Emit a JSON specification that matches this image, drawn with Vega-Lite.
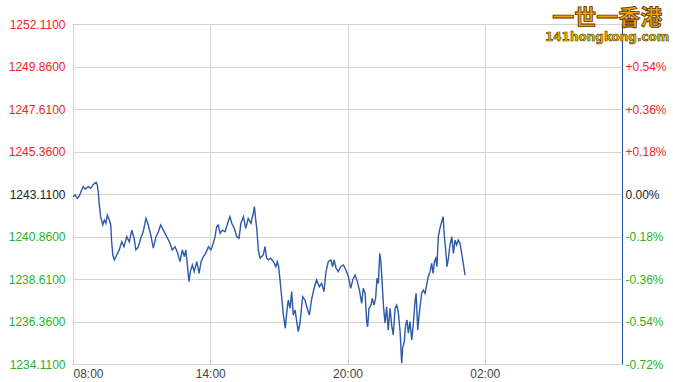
{
  "$schema": "https://vega.github.io/schema/vega-lite/v6.json",
  "width": 549,
  "height": 340,
  "autosize": {"type": "none"},
  "padding": {"left": 73, "top": 24, "right": 51, "bottom": 18},
  "background": "white",
  "config": {
    "view": {"stroke": "#1f4e9e", "strokeWidth": 1},
    "axis": {"labelFont": "Liberation Sans", "labelFontSize": 12}
  },
  "layer": [
    {
      "data": {"values": [
        {"h":8.01,"v":1242.97},{"h":8.09,"v":1243.06},{"h":8.19,"v":1242.88},{"h":8.28,"v":1243.02},{"h":8.38,"v":1243.32},{"h":8.45,"v":1243.50},{"h":8.53,"v":1243.37},{"h":8.67,"v":1243.50},{"h":8.77,"v":1243.41},{"h":8.89,"v":1243.62},{"h":9.01,"v":1243.73},{"h":9.06,"v":1243.62},{"h":9.11,"v":1243.15},{"h":9.15,"v":1242.53},{"h":9.21,"v":1241.91},{"h":9.30,"v":1241.47},{"h":9.37,"v":1241.73},{"h":9.44,"v":1241.56},{"h":9.50,"v":1242.00},{"h":9.59,"v":1241.73},{"h":9.65,"v":1241.47},{"h":9.69,"v":1240.58},{"h":9.74,"v":1239.88},{"h":9.81,"v":1239.62},{"h":9.91,"v":1239.88},{"h":10.02,"v":1240.15},{"h":10.13,"v":1240.58},{"h":10.23,"v":1240.32},{"h":10.35,"v":1240.85},{"h":10.46,"v":1240.58},{"h":10.57,"v":1241.20},{"h":10.67,"v":1240.77},{"h":10.75,"v":1240.15},{"h":10.86,"v":1240.32},{"h":10.96,"v":1240.77},{"h":11.07,"v":1241.11},{"h":11.19,"v":1241.82},{"h":11.29,"v":1241.47},{"h":11.40,"v":1240.94},{"h":11.51,"v":1240.24},{"h":11.63,"v":1240.85},{"h":11.73,"v":1241.11},{"h":11.83,"v":1241.47},{"h":11.95,"v":1241.20},{"h":12.10,"v":1240.85},{"h":12.24,"v":1240.50},{"h":12.34,"v":1240.15},{"h":12.46,"v":1240.32},{"h":12.58,"v":1239.97},{"h":12.68,"v":1239.53},{"h":12.78,"v":1240.15},{"h":12.87,"v":1239.79},{"h":12.93,"v":1240.15},{"h":12.98,"v":1239.62},{"h":13.07,"v":1238.47},{"h":13.13,"v":1239.00},{"h":13.22,"v":1239.35},{"h":13.30,"v":1239.00},{"h":13.41,"v":1239.53},{"h":13.51,"v":1238.91},{"h":13.60,"v":1239.53},{"h":13.70,"v":1239.79},{"h":13.80,"v":1239.97},{"h":13.92,"v":1240.32},{"h":14.03,"v":1240.15},{"h":14.13,"v":1240.50},{"h":14.21,"v":1240.85},{"h":14.28,"v":1241.38},{"h":14.35,"v":1241.47},{"h":14.43,"v":1241.03},{"h":14.53,"v":1241.20},{"h":14.65,"v":1241.11},{"h":14.76,"v":1241.56},{"h":14.86,"v":1241.91},{"h":14.94,"v":1241.56},{"h":15.05,"v":1241.29},{"h":15.16,"v":1240.85},{"h":15.26,"v":1240.77},{"h":15.34,"v":1241.56},{"h":15.45,"v":1241.91},{"h":15.55,"v":1241.29},{"h":15.66,"v":1241.82},{"h":15.78,"v":1241.56},{"h":15.88,"v":1242.09},{"h":15.93,"v":1242.44},{"h":15.99,"v":1241.73},{"h":16.04,"v":1241.20},{"h":16.10,"v":1240.15},{"h":16.18,"v":1239.71},{"h":16.32,"v":1239.88},{"h":16.39,"v":1240.32},{"h":16.47,"v":1239.71},{"h":16.54,"v":1239.62},{"h":16.64,"v":1239.71},{"h":16.76,"v":1239.53},{"h":16.87,"v":1239.26},{"h":16.93,"v":1239.53},{"h":16.99,"v":1239.26},{"h":17.05,"v":1238.56},{"h":17.12,"v":1237.67},{"h":17.19,"v":1236.79},{"h":17.28,"v":1236.00},{"h":17.34,"v":1236.79},{"h":17.41,"v":1237.50},{"h":17.49,"v":1237.06},{"h":17.56,"v":1237.94},{"h":17.63,"v":1236.70},{"h":17.71,"v":1236.97},{"h":17.78,"v":1236.35},{"h":17.85,"v":1235.82},{"h":17.92,"v":1236.27},{"h":18.04,"v":1237.67},{"h":18.14,"v":1237.50},{"h":18.22,"v":1237.14},{"h":18.33,"v":1236.70},{"h":18.44,"v":1237.59},{"h":18.54,"v":1238.12},{"h":18.65,"v":1238.56},{"h":18.77,"v":1238.20},{"h":18.87,"v":1238.38},{"h":18.97,"v":1237.94},{"h":19.06,"v":1239.00},{"h":19.16,"v":1239.53},{"h":19.27,"v":1239.62},{"h":19.35,"v":1239.26},{"h":19.41,"v":1239.62},{"h":19.50,"v":1239.18},{"h":19.60,"v":1239.00},{"h":19.70,"v":1239.26},{"h":19.82,"v":1239.35},{"h":19.93,"v":1239.09},{"h":20.04,"v":1238.73},{"h":20.14,"v":1238.12},{"h":20.23,"v":1238.56},{"h":20.33,"v":1238.82},{"h":20.43,"v":1238.47},{"h":20.52,"v":1238.03},{"h":20.62,"v":1237.32},{"h":20.69,"v":1238.12},{"h":20.77,"v":1237.85},{"h":20.84,"v":1236.35},{"h":20.88,"v":1236.08},{"h":20.94,"v":1237.06},{"h":21.03,"v":1237.23},{"h":21.08,"v":1237.59},{"h":21.16,"v":1237.23},{"h":21.23,"v":1237.59},{"h":21.29,"v":1238.65},{"h":21.35,"v":1238.38},{"h":21.41,"v":1239.97},{"h":21.46,"v":1239.53},{"h":21.52,"v":1238.29},{"h":21.58,"v":1237.06},{"h":21.64,"v":1236.27},{"h":21.71,"v":1237.14},{"h":21.78,"v":1235.91},{"h":21.86,"v":1237.06},{"h":21.93,"v":1236.17},{"h":22.00,"v":1235.65},{"h":22.08,"v":1237.06},{"h":22.15,"v":1237.23},{"h":22.22,"v":1236.88},{"h":22.30,"v":1235.82},{"h":22.37,"v":1234.15},{"h":22.41,"v":1234.94},{"h":22.48,"v":1235.29},{"h":22.54,"v":1236.17},{"h":22.60,"v":1236.44},{"h":22.66,"v":1235.74},{"h":22.73,"v":1236.35},{"h":22.81,"v":1235.38},{"h":22.88,"v":1236.27},{"h":22.95,"v":1237.41},{"h":23.00,"v":1237.85},{"h":23.07,"v":1235.91},{"h":23.13,"v":1236.70},{"h":23.18,"v":1237.23},{"h":23.24,"v":1237.85},{"h":23.31,"v":1238.03},{"h":23.39,"v":1237.85},{"h":23.46,"v":1238.29},{"h":23.53,"v":1238.73},{"h":23.61,"v":1239.00},{"h":23.68,"v":1239.44},{"h":23.74,"v":1238.91},{"h":23.80,"v":1239.53},{"h":23.86,"v":1239.71},{"h":23.91,"v":1239.26},{"h":23.97,"v":1240.85},{"h":24.04,"v":1241.29},{"h":24.12,"v":1241.64},{"h":24.18,"v":1241.91},{"h":24.23,"v":1240.94},{"h":24.29,"v":1240.15},{"h":24.35,"v":1239.26},{"h":24.41,"v":1239.71},{"h":24.48,"v":1240.41},{"h":24.56,"v":1240.85},{"h":24.63,"v":1239.97},{"h":24.70,"v":1240.67},{"h":24.77,"v":1240.41},{"h":24.84,"v":1240.67},{"h":24.92,"v":1240.50},{"h":24.99,"v":1239.97},{"h":25.06,"v":1239.44},{"h":25.14,"v":1238.82}
      ]},
      "mark": {"type": "line", "color": "#2a5aa8", "strokeWidth": 1.4},
      "encoding": {
        "x": {
          "field": "h", "type": "quantitative",
          "scale": {"domain": [8, 32], "nice": false, "zero": false},
          "axis": {
            "title": null, "values": [8, 14, 20, 26],
            "labelExpr": "((datum.value % 24) < 10 ? '0' : '') + (datum.value % 24) + ':00'",
            "grid": true, "gridColor": "#d4d4d4", "ticks": false, "domain": false,
            "labelPadding": 4, "labelColor": "#444444", "labelFlush": true, "labelFlushOffset": 0
          }
        },
        "y": {
          "field": "v", "type": "quantitative",
          "scale": {"domain": [1234.11, 1252.11], "nice": false, "zero": false},
          "axis": {
            "orient": "left", "title": null,
            "values": [1234.11, 1236.36, 1238.61, 1240.86, 1243.11, 1245.36, 1247.61, 1249.86, 1252.11],
            "format": ".4f", "grid": true, "gridColor": "#d4d4d4", "ticks": false, "domain": false,
            "labelPadding": 8,
            "labelColor": {"condition": [{"test": "datum.value > 1243.2", "value": "#f02525"}, {"test": "datum.value < 1243.0", "value": "#1fb41f"}], "value": "#222222"}
          }
        }
      }
    },
    {
      "mark": {"type": "rule", "color": "#6b6f10", "strokeWidth": 1},
      "encoding": {
        "y": {
          "datum": 1243.11, "type": "quantitative",
          "axis": {
            "orient": "right", "title": null,
            "values": [1234.11, 1236.36, 1238.61, 1240.86, 1243.11, 1245.36, 1247.61, 1249.86],
            "labelExpr": "(datum.value > 1243.2 ? '+' : (datum.value < 1243.0 ? '-' : '')) + format(abs(datum.value - 1243.11) / 1243.11 * 100, '.2f') + '%'",
            "grid": false, "ticks": false, "domain": false, "labelPadding": 3,
            "labelColor": {"condition": [{"test": "datum.value > 1243.2", "value": "#f02525"}, {"test": "datum.value < 1243.0", "value": "#1fb41f"}], "value": "#222222"}
          }
        }
      }
    },
    {
      "data": {"values": [{"logo": "一世一香港"}]},
      "mark": {"type": "text", "font": "Noto Sans CJK SC", "fontWeight": "bold", "fontSize": 22, "fill": "#f5a300", "stroke": "#5a3000", "strokeWidth": 0.8, "baseline": "middle", "align": "center", "dy": -6},
      "encoding": {
        "x": {"datum": 31.35, "type": "quantitative"},
        "y": {"datum": 1252.11, "type": "quantitative", "axis": null},
        "text": {"field": "logo"}
      }
    },
    {
      "data": {"values": [{"logo": "141hongkong.com"}]},
      "mark": {"type": "text", "font": "DejaVu Sans", "fontWeight": "bold", "fontSize": 12, "fill": "#f2c200", "stroke": "#4a3000", "strokeWidth": 0.6, "baseline": "middle", "align": "center", "dy": 13},
      "encoding": {
        "x": {"datum": 31.35, "type": "quantitative"},
        "y": {"datum": 1252.11, "type": "quantitative", "axis": null},
        "text": {"field": "logo"}
      }
    }
  ],
  "resolve": {"axis": {"y": "independent"}}
}
